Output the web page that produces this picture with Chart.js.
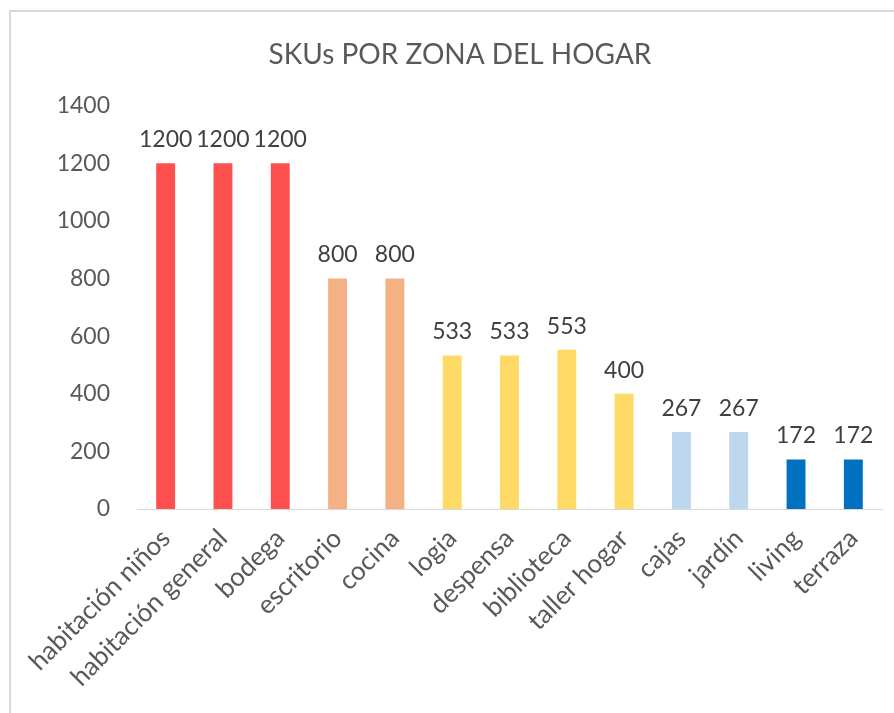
<!DOCTYPE html>
<html>
<head>
<meta charset="utf-8">
<script src="https://cdn.jsdelivr.net/npm/chart.js@4/dist/chart.umd.min.js"></script>
<style>
html,body{margin:0;padding:0;background:#fff;}
canvas{display:block;}
</style>
</head>
<body>
<canvas id="c" width="894" height="713"></canvas>
<script>
const categories = ["habitación niños","habitación general","bodega","escritorio","cocina","logia","despensa","biblioteca","taller hogar","cajas","jardín","living","terraza"];
const skuValues = [1200,1200,1200,800,800,533,533,553,400,267,267,172,172];
const barColors = ["#FF5050","#FF5050","#FF5050","#F4B183","#F4B183","#FFD966","#FFD966","#FFD966","#FFD966","#BDD7EE","#BDD7EE","#0070C0","#0070C0"];
const yTicks = [0,200,400,600,800,1000,1200,1400];
const chartTitle = "SKUs POR ZONA DEL HOGAR";

const FONT = "Lato, 'Open Sans', sans-serif";

const frame = {
  id: 'frame',
  beforeDraw(chart) {
    const ctx = chart.ctx;
    ctx.save();
    ctx.fillStyle = '#fff';
    ctx.fillRect(0,0,chart.width,chart.height);
    ctx.strokeStyle = '#D9D9D9';
    ctx.lineWidth = 2;
    ctx.beginPath();
    ctx.moveTo(10, chart.height);
    ctx.lineTo(10, 11);
    ctx.lineTo(chart.width, 11);
    ctx.stroke();
    ctx.restore();
  }
};

const dataLabels = {
  id: 'dataLabels',
  afterDatasetsDraw(chart) {
    const ctx = chart.ctx;
    const meta = chart.getDatasetMeta(0);
    ctx.save();
    ctx.font = "23px " + FONT;
    ctx.fillStyle = '#404040';
    ctx.textAlign = 'center';
    ctx.textBaseline = 'bottom';
    meta.data.forEach((bar, i) => {
      ctx.fillText(String(skuValues[i]), bar.x, bar.y - 12);
    });
    ctx.restore();
  }
};

new Chart(document.getElementById('c'), {
  type: 'bar',
  data: {
    labels: categories,
    datasets: [{
      data: skuValues,
      backgroundColor: barColors,
      borderWidth: 0,
      categoryPercentage: 1,
      barPercentage: 0.33
    }]
  },
  options: {
    responsive: false,
    animation: false,
    layout: { padding: { left: 38, right: 12, top: 0, bottom: 0 } },
    plugins: {
      legend: { display: false },
      tooltip: { enabled: false },
      title: {
        display: true,
        text: chartTitle,
        color: '#595959',
        font: { family: FONT, size: 28, weight: 'normal' },
        padding: { top: 38, bottom: 34 }
      }
    },
    scales: {
      y: {
        min: 0, max: 1400,
        afterBuildTicks(scale) { scale.ticks = yTicks.map(v => ({ value: v })); },
        grid: { display: false, drawTicks: false },
        border: { display: false },
        ticks: { color: '#595959', font: { family: FONT, size: 23 }, padding: 27, callback: (v) => String(v) },
        afterFit(scale) { scale.width = 99; }
      },
      x: {
        grid: { display: false, drawTicks: false },
        border: { display: true, color: '#D9D9D9', width: 1 },
        ticks: { color: '#595959', font: { family: FONT, size: 26 }, minRotation: 45, maxRotation: 45, padding: 14, autoSkip: false },
        afterFit(scale) { scale.height = 204; }
      }
    }
  },
  plugins: [frame, dataLabels]
});
</script>
</body>
</html>
